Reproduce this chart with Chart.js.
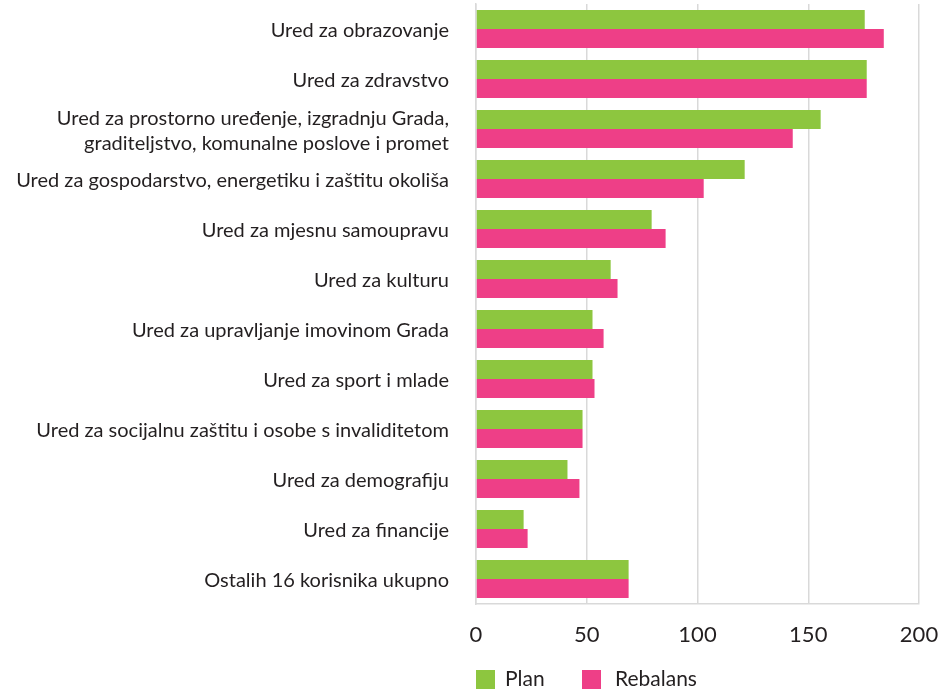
<!DOCTYPE html>
<html>
<head>
<meta charset="utf-8">
<script src="https://cdn.jsdelivr.net/npm/chart.js@4/dist/chart.umd.min.js"></script>
<style>
    html, body { margin: 0; padding: 0; background: #fff; }
    #wrap { width: 940px; height: 690px; }
</style>
</head>
<body>
<div id="wrap"><canvas id="budget-chart"></canvas></div>
<script>
const categories = [
    'Ured za obrazovanje',
    'Ured za zdravstvo',
    ['Ured za prostorno uređenje, izgradnju Grada,', 'graditeljstvo, komunalne poslove i promet'],
    'Ured za gospodarstvo, energetiku i zaštitu okoliša',
    'Ured za mjesnu samoupravu',
    'Ured za kulturu',
    'Ured za upravljanje imovinom Grada',
    'Ured za sport i mlade',
    'Ured za socijalnu zaštitu i osobe s invaliditetom',
    'Ured za demografiju',
    'Ured za financije',
    'Ostalih 16 korisnika ukupno'
]
const planValues = [175.5, 176.4, 155.6, 121.3, 79.3, 60.8, 52.6, 52.6, 48.1, 41.3, 21.5, 68.9]
const rebalansValues = [184.1, 176.4, 143.0, 102.8, 85.6, 63.9, 57.6, 53.5, 48.1, 46.7, 23.3, 68.9]
const xTicks = [0, 50, 100, 150, 200]

const FONT = 'Lato'
const textColor = '#231f20'

// legend drawn by hand so it starts at the left edge of the plot
const bottomLegend = {
    id: 'bottomLegend',
    afterDraw(chart) {
        const ctx = chart.ctx
        const left = chart.chartArea.left
        const sets = chart.data.datasets
        const boxes = [left, left + 106]
        const texts = [left + 29, left + 139]
        ctx.save()
        ctx.font = `21px ${FONT}`
        ctx.textBaseline = 'middle'
        ctx.textAlign = 'left'
        sets.forEach((ds, i) => {
            ctx.fillStyle = ds.backgroundColor
            ctx.fillRect(boxes[i], 670, 19, 19)
            ctx.fillStyle = textColor
            ctx.fillText(ds.label, texts[i], 679)
        })
        ctx.restore()
    }
}

function renderChart() {
    const ctx = document.getElementById('budget-chart')
    new Chart(ctx, {
        type: 'bar',
        data: {
            labels: categories,
            datasets: [{
                label: 'Plan',
                data: planValues,
                backgroundColor: '#8dc63f'
            }, {
                label: 'Rebalans',
                data: rebalansValues,
                backgroundColor: '#ee3f87'
            }]
        },
        options: {
            indexAxis: 'y',
            responsive: true,
            maintainAspectRatio: false,
            animation: false,
            barPercentage: 1,
            categoryPercentage: 0.76,
            layout: { padding: { top: 4, right: 21, bottom: 0, left: 0 } },
            plugins: {
                legend: { display: false },
                tooltip: { enabled: false }
            },
            scales: {
                x: {
                    min: 0,
                    max: 200,
                    afterBuildTicks: scale => { scale.ticks = xTicks.map(v => ({ value: v })) },
                    afterFit: scale => {
                        scale.height = 86
                        scale.paddingLeft = 0
                        scale.paddingRight = 0
                    },
                    grid: { color: '#d9d9d9', lineWidth: 1.5, drawTicks: false },
                    border: { display: true, color: '#d9d9d9', width: 1.5 },
                    ticks: {
                        padding: 18,
                        color: textColor,
                        font: { family: FONT, size: 22 }
                    }
                },
                y: {
                    afterFit: scale => {
                        scale.width = 476
                        scale.paddingTop = 0
                        scale.paddingBottom = 0
                    },
                    grid: { display: false, drawTicks: false },
                    border: { color: '#d9d9d9', width: 1.5 },
                    ticks: {
                        autoSkip: false,
                        padding: 27,
                        labelOffset: 2,
                        color: textColor,
                        font: { family: FONT, size: 20, lineHeight: 1.25 }
                    }
                }
            }
        },
        plugins: [bottomLegend]
    })
}

addEventListener('load', renderChart)
</script>
</body>
</html>
